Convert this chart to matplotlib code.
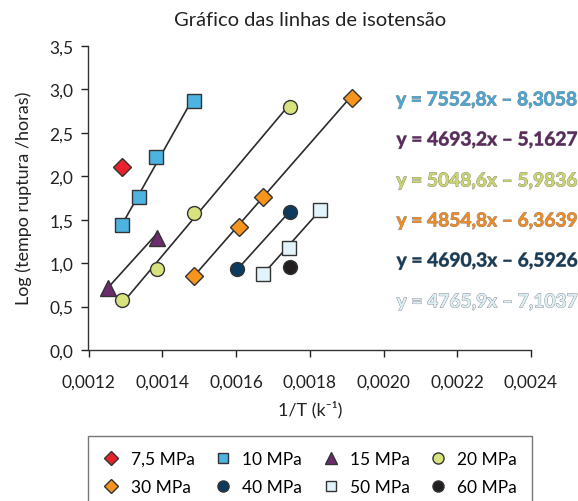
import numpy as np
import matplotlib
matplotlib.use("Agg")
import matplotlib.pyplot as plt
import matplotlib.patheffects as pe
from matplotlib.ticker import FuncFormatter

plt.rcParams['font.family'] = ['Lato', 'DejaVu Sans']

# dados (1/T, log tempo ruptura)
labels = ["7,5 MPa", "10 MPa", "15 MPa", "20 MPa", "30 MPa", "40 MPa", "50 MPa", "60 MPa"]
x75 = [0.00129]
y75 = [2.11]
x10 = [0.00129, 0.001338, 0.001384, 0.001485]
y10 = [1.44, 1.76, 2.22, 2.87]
x15 = [0.001253, 0.001385]
y15 = [0.71, 1.29]
x20 = [0.001291, 0.001385, 0.001486, 0.001747]
y20 = [0.57, 0.93, 1.58, 2.80]
x30 = [0.001487, 0.001608, 0.001674, 0.001915]
y30 = [0.85, 1.42, 1.76, 2.90]
x40 = [0.001604, 0.001747]
y40 = [0.93, 1.59]
x50 = [0.001672, 0.001745, 0.001829]
y50 = [0.88, 1.18, 1.61]
x60 = [0.001747]
y60 = [0.95]

# linhas de tendencia (10, 15, 20, 30, 40, 50 MPa)
slopes = [7552.8, 4693.2, 5048.6, 4854.8, 4690.3, 4765.9]
intercepts = [8.3058, 5.1627, 5.9836, 6.3639, 6.5926, 7.1037]

xs = [x75, x10, x15, x20, x30, x40, x50, x60]
ys = [y75, y10, y15, y20, y30, y40, y50, y60]
markers = ['D', 's', '^', 'o', 'D', 'o', 's', 'o']
colors = ['#e8212a', '#4db3e0', '#6a2c6c', '#d9e37e', '#f7941d', '#0d3b5e', '#e2f3fb', '#231f20']
sizes = [9, 9.5, 11, 10, 9, 10, 9.5, 10]
eq_colors = ['#4aa6d3', '#5d2a5f', '#cbd56c', '#f08a22', '#163c59', '#dceef6']

fig = plt.figure(figsize=(5.78, 5.02), dpi=100)
ax = fig.add_axes([88.5/578, 1-351/502, (531-88.5)/578, (351-47)/502])

for k in range(6):
    xx = np.array([min(xs[k+1]), max(xs[k+1])])
    ax.plot(xx, slopes[k]*xx - intercepts[k], color='#2b2b2b', lw=1.2, zorder=2)

handles = []
for i in range(8):
    h, = ax.plot(xs[i], ys[i], linestyle='none', marker=markers[i], ms=sizes[i],
                 mfc=colors[i], mec='#333333', mew=1.0, label=labels[i], zorder=3)
    handles.append(h)

ax.set_xlim(0.0012, 0.0024)
ax.set_ylim(0, 3.5)
ax.set_xticks(np.arange(0.0012, 0.00241, 0.0002))
ax.set_yticks(np.arange(0, 3.51, 0.5))
ax.xaxis.set_major_formatter(FuncFormatter(lambda v, p: f"{v:.4f}".replace('.', ',')))
ax.yaxis.set_major_formatter(FuncFormatter(lambda v, p: f"{v:.1f}".replace('.', ',')))
ax.tick_params(labelsize=12.5, colors='#222222', length=5, width=1, pad=6)
ax.tick_params(axis='x', pad=12)
for s in ['top', 'right']:
    ax.spines[s].set_visible(False)
for s in ['left', 'bottom']:
    ax.spines[s].set_color('#333333')
    ax.spines[s].set_linewidth(1.0)

fig.text(310/578, 1-21/502, "Gráfico das linhas de isotensão", ha='center', va='center',
         fontsize=14.5, color='#222222')
fig.text(310/578, 1-410/502, "1/T (k⁻¹)", ha='center', va='center', fontsize=13, color='#222222')
fig.text(24/578, 1-198/502, "Log (tempo ruptura /horas)", ha='center', va='center',
         rotation=90, fontsize=13, color='#222222')

eq_y = [101, 141, 182, 222, 262, 303]
for k in range(6):
    txt = f"y = {slopes[k]:.1f}x – {intercepts[k]:.4f}".replace('.', ',')
    fig.text(577/578, 1-eq_y[k]/502, txt, ha='right', va='center', fontsize=13.8,
             fontweight='bold', color=eq_colors[k],
             path_effects=[pe.withStroke(linewidth=0.6, foreground='#8a8a8a')])

# ordem por linha na legenda (4 colunas)
order = [0, 4, 1, 5, 2, 6, 3, 7]
leg = fig.legend([handles[i] for i in order], [labels[i] for i in order],
                 loc='upper left', bbox_to_anchor=(88/578, 1-501/502, (532-88)/578, 64/502),
                 mode='expand', ncol=4, fontsize=12.5, frameon=True, fancybox=False,
                 markerscale=0.8, handletextpad=0.6, borderpad=0.85, labelspacing=0.7,
                 handlelength=1.0, columnspacing=1.0, borderaxespad=0)
leg.get_frame().set_edgecolor('#555555')
leg.get_frame().set_linewidth(1.0)

fig.savefig("out.png", dpi=100)
